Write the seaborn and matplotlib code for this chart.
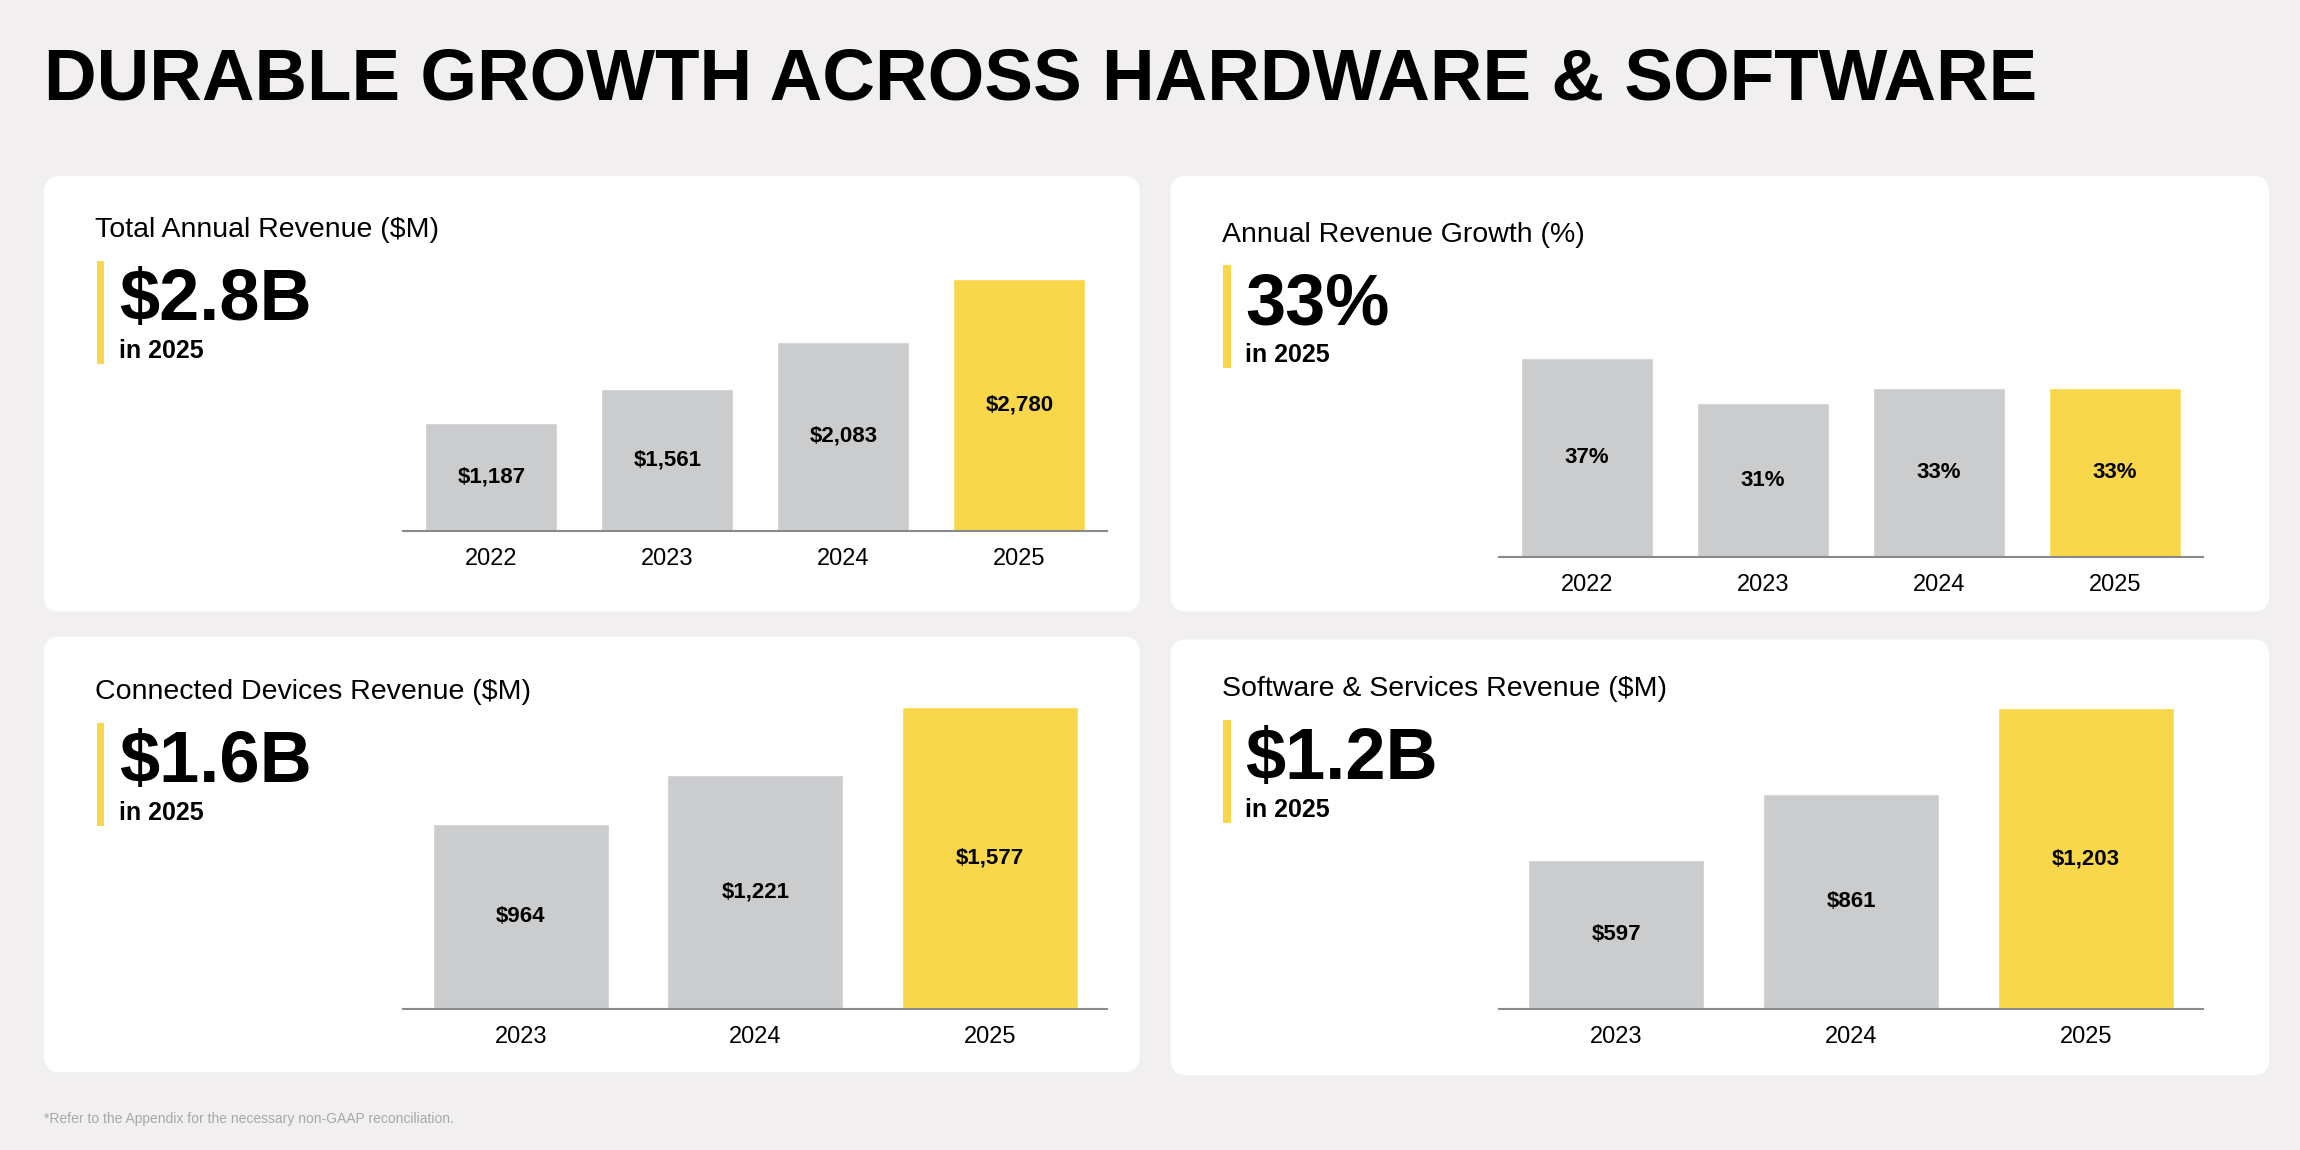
import matplotlib.pyplot as plt
import seaborn as sns
from matplotlib.patches import FancyBboxPatch, Rectangle

sns.set_theme(style="white")
plt.rcParams['font.family'] = ['Liberation Sans', 'DejaVu Sans']

# Data
total_years = ['2022', '2023', '2024', '2025']
total_rev = [1187, 1561, 2083, 2780]
growth_years = ['2022', '2023', '2024', '2025']
growth_pct = [37, 31, 33, 33]
devices_years = ['2023', '2024', '2025']
devices_rev = [964, 1221, 1577]
software_years = ['2023', '2024', '2025']
software_rev = [597, 861, 1203]

GRAY = '#CBCCCE'
YELLOW = '#F8D84A'
BG = '#F1EFEF'
W, H = 1568, 784  # reference layout units

fig = plt.figure(figsize=(23, 11.5), dpi=100)
fig.set_facecolor(BG)

def fx(x): return x / W
def fy(y): return 1 - y / H

fig.text(fx(30), fy(55), 'DURABLE GROWTH ACROSS HARDWARE & SOFTWARE', fontsize=52.5,
         fontweight='bold', va='center', ha='left', color='black')
fig.text(fx(30), fy(763), '*Refer to the Appendix for the necessary non-GAAP reconciliation.',
         fontsize=10, color='#A8A8A8', va='center')

panels = [
    dict(box=(30, 120, 777, 417), title='Total Annual Revenue ($M)', big='$2.8B', ty=157,
         ax=(275, 190, 755, 362), years=total_years, vals=total_rev, fmt='${:,}', ymin=0),
    dict(box=(798, 120, 1547, 417), title='Annual Revenue Growth (%)', big='33%', ty=160,
         ax=(1022, 244, 1502, 380), years=growth_years, vals=growth_pct, fmt='{}%', ymin=10.7),
    dict(box=(30, 434, 777, 731), title='Connected Devices Revenue ($M)', big='$1.6B', ty=472,
         ax=(275, 482, 755, 688), years=devices_years, vals=devices_rev, fmt='${:,}', ymin=0),
    dict(box=(798, 436, 1547, 733), title='Software & Services Revenue ($M)', big='$1.2B', ty=470,
         ax=(1022, 483, 1502, 688), years=software_years, vals=software_rev, fmt='${:,}', ymin=0),
]

for p in panels:
    x0, y0, x1, y1 = p['box']
    fig.patches.append(FancyBboxPatch((fx(x0), fy(y1)), fx(x1 - x0), (y1 - y0) / H,
                                      boxstyle='round,pad=0,rounding_size=0.007',
                                      mutation_aspect=2, transform=fig.transFigure,
                                      facecolor='white', edgecolor='none', zorder=-1))
    tx = x0 + 35
    fig.text(fx(tx), fy(p['ty']), p['title'], fontsize=20.5, va='center', color='black')
    ay = p['ty'] + 21
    fig.patches.append(Rectangle((fx(tx + 1), fy(ay + 70)), fx(5), 70 / H,
                                 transform=fig.transFigure, facecolor=YELLOW,
                                 edgecolor='none', zorder=1))
    fig.text(fx(tx + 16), fy(ay + 27), p['big'], fontsize=52, fontweight='bold',
             va='center', color='black')
    fig.text(fx(tx + 16), fy(ay + 61), 'in 2025', fontsize=18, fontweight='bold',
             va='center', color='black')

    ax0, ay0, ax1, ay1 = p['ax']
    ax = fig.add_axes([fx(ax0), fy(ay1), fx(ax1 - ax0), (ay1 - ay0) / H])
    ax.set_zorder(3)
    ax.set_facecolor('none')
    n = len(p['vals'])
    colors = [GRAY] * (n - 1) + [YELLOW]
    sns.barplot(x=p['years'], y=p['vals'], hue=p['years'], palette=colors, legend=False,
                width=0.75, ax=ax, saturation=1)
    ax.set_ylim(p['ymin'], max(p['vals']))
    ax.set_xlim(-0.5, n - 0.5)
    for i, v in enumerate(p['vals']):
        ax.text(i, (v + p['ymin']) / 2, p['fmt'].format(v), ha='center', va='center',
                fontsize=16, fontweight='bold', color='black')
    for s in ['top', 'right', 'left']:
        ax.spines[s].set_visible(False)
    ax.spines['bottom'].set_color('#8A8A8A')
    ax.spines['bottom'].set_linewidth(1.5)
    ax.set_yticks([])
    ax.tick_params(axis='x', length=0, pad=12, labelsize=17, colors='black')
    ax.set_xlabel('')
    ax.set_ylabel('')

fig.savefig('out.png', dpi=100, facecolor=BG)
